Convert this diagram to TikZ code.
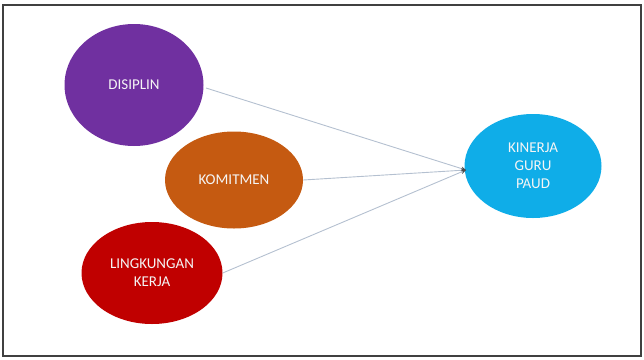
\documentclass[tikz,border=0pt]{standalone}
\usepackage{fontspec}
\setmainfont{Carlito}
\usetikzlibrary{arrows.meta,shapes.geometric}
\definecolor{cpurple}{HTML}{7030A0}
\definecolor{corange}{HTML}{C55A11}
\definecolor{cred}{HTML}{C00000}
\definecolor{cblue}{HTML}{0FADE8}
\definecolor{cline}{HTML}{B4C0D0}
\begin{document}
\begin{tikzpicture}[x=1pt,y=-1pt,
  bubble/.style={ellipse, minimum width=#1, inner sep=0pt, text=white!92!gray, font=\fontsize{15}{18}\selectfont, align=center},
  link/.style={draw=cline, line width=0.9pt, -{Stealth[length=5pt,width=4pt,color=black!70]}}
]
\useasboundingbox (0,0) rectangle (644,359);
\draw[draw=black!75, line width=1.4pt] (3,5) rectangle (641,356);
\node[bubble=139pt, minimum height=122pt, fill=cpurple] (dis) at (134,85) {DISIPLIN};
\node[bubble=138pt, minimum height=97pt, fill=corange] (kom) at (234,180) {KOMITMEN};
\node[bubble=141pt, minimum height=102pt, fill=cred] (lin) at (152,273) {LINGKUNGAN\\KERJA};
\node[bubble=137pt, minimum height=104pt, fill=cblue] (kin) at (533,166) {KINERJA\\GURU\\PAUD};
\coordinate (tip) at (466,170);
\coordinate (disout) at (206,88);
\draw[link] (disout) -- (tip);
\draw[link] (kom.east) -- (tip);
\draw[link] (lin.east) -- (tip);
\end{tikzpicture}
\end{document}
